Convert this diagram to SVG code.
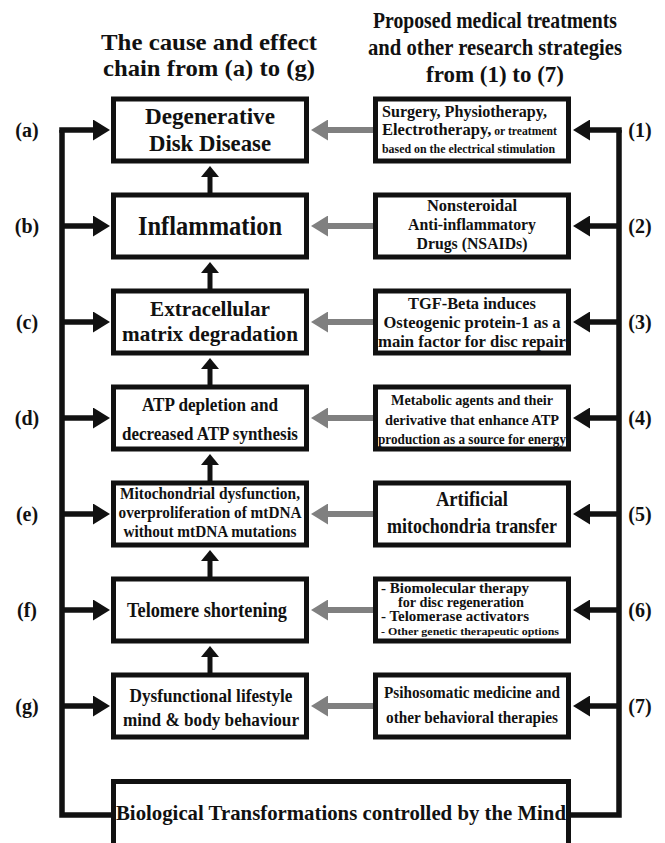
<svg xmlns="http://www.w3.org/2000/svg" width="665" height="843" viewBox="0 0 665 843">
<style>
text{font-family:"Liberation Serif","Times New Roman",serif;font-weight:bold;fill:#111}
.c{text-anchor:middle}
.box{fill:#fff;stroke:#111;stroke-width:5}
.k{stroke:#111;stroke-width:5.5;fill:none}
.g{stroke:#808080;stroke-width:6;fill:none}
.u{stroke:#111;stroke-width:5;fill:none}
.t{font-size:23px}
.lb{font-size:20px}
</style>
<defs>
<marker id="ak" markerUnits="userSpaceOnUse" markerWidth="17" markerHeight="21" viewBox="0 0 17 21" refX="1" refY="10.5" orient="auto"><path d="M0,0 L17,10.5 L0,21 Z" fill="#111"/></marker>
<marker id="ag" markerUnits="userSpaceOnUse" markerWidth="17" markerHeight="21" viewBox="0 0 17 21" refX="1" refY="10.5" orient="auto"><path d="M0,0 L17,10.5 L0,21 Z" fill="#808080"/></marker>
<marker id="au" markerUnits="userSpaceOnUse" markerWidth="11" markerHeight="18" viewBox="0 0 11 18" refX="1" refY="9" orient="auto"><path d="M0,0 L11,9 L0,18 Z" fill="#111"/></marker>
</defs>

<g id="titles">
<text class="t c" x="209" y="50" textLength="216" lengthAdjust="spacingAndGlyphs">The cause and effect</text>
<text class="t c" x="209" y="76" textLength="212" lengthAdjust="spacingAndGlyphs">chain from (a) to (g)</text>
<text class="t c" x="495" y="28" textLength="244" lengthAdjust="spacingAndGlyphs">Proposed medical treatments</text>
<text class="t c" x="495" y="55" textLength="254" lengthAdjust="spacingAndGlyphs">and other research strategies</text>
<text class="t c" x="495" y="82" textLength="138" lengthAdjust="spacingAndGlyphs">from (1) to (7)</text>
</g>

<g id="labels">
<text class="lb c" x="27" y="137">(a)</text>
<text class="lb c" x="27" y="233">(b)</text>
<text class="lb c" x="27" y="329">(c)</text>
<text class="lb c" x="27" y="425">(d)</text>
<text class="lb c" x="27" y="521">(e)</text>
<text class="lb c" x="27" y="617">(f)</text>
<text class="lb c" x="27" y="713">(g)</text>
<text class="lb c" x="640" y="137">(1)</text>
<text class="lb c" x="640" y="233">(2)</text>
<text class="lb c" x="640" y="329">(3)</text>
<text class="lb c" x="640" y="425">(4)</text>
<text class="lb c" x="640" y="521">(5)</text>
<text class="lb c" x="640" y="617">(6)</text>
<text class="lb c" x="640" y="713">(7)</text>
</g>

<g id="connectors">
<path class="k" d="M111,815 H62 V130"/>
<path class="k" d="M571,815 H619 V130"/>
<line class="k" x1="59.25" y1="130" x2="94" y2="130" marker-end="url(#ak)"/>
<line class="k" x1="62" y1="226" x2="94" y2="226" marker-end="url(#ak)"/>
<line class="k" x1="62" y1="322" x2="94" y2="322" marker-end="url(#ak)"/>
<line class="k" x1="62" y1="418" x2="94" y2="418" marker-end="url(#ak)"/>
<line class="k" x1="62" y1="514" x2="94" y2="514" marker-end="url(#ak)"/>
<line class="k" x1="62" y1="610" x2="94" y2="610" marker-end="url(#ak)"/>
<line class="k" x1="62" y1="706" x2="94" y2="706" marker-end="url(#ak)"/>
<line class="k" x1="621.75" y1="130" x2="589" y2="130" marker-end="url(#ak)"/>
<line class="k" x1="619" y1="226" x2="589" y2="226" marker-end="url(#ak)"/>
<line class="k" x1="619" y1="322" x2="589" y2="322" marker-end="url(#ak)"/>
<line class="k" x1="619" y1="418" x2="589" y2="418" marker-end="url(#ak)"/>
<line class="k" x1="619" y1="514" x2="589" y2="514" marker-end="url(#ak)"/>
<line class="k" x1="619" y1="610" x2="589" y2="610" marker-end="url(#ak)"/>
<line class="k" x1="619" y1="706" x2="589" y2="706" marker-end="url(#ak)"/>
<line class="g" x1="373" y1="130" x2="327" y2="130" marker-end="url(#ag)"/>
<line class="g" x1="373" y1="226" x2="327" y2="226" marker-end="url(#ag)"/>
<line class="g" x1="373" y1="322" x2="327" y2="322" marker-end="url(#ag)"/>
<line class="g" x1="373" y1="418" x2="327" y2="418" marker-end="url(#ag)"/>
<line class="g" x1="373" y1="514" x2="327" y2="514" marker-end="url(#ag)"/>
<line class="g" x1="373" y1="610" x2="327" y2="610" marker-end="url(#ag)"/>
<line class="g" x1="373" y1="706" x2="327" y2="706" marker-end="url(#ag)"/>
<line class="u" x1="210" y1="193" x2="210" y2="176" marker-end="url(#au)"/>
<line class="u" x1="210" y1="289" x2="210" y2="272" marker-end="url(#au)"/>
<line class="u" x1="210" y1="385" x2="210" y2="368" marker-end="url(#au)"/>
<line class="u" x1="210" y1="481" x2="210" y2="464" marker-end="url(#au)"/>
<line class="u" x1="210" y1="577" x2="210" y2="560" marker-end="url(#au)"/>
<line class="u" x1="210" y1="673" x2="210" y2="656" marker-end="url(#au)"/>
</g>

<g id="a">
<rect class="box" x="113.5" y="99" width="193" height="62"/>
<text class="c" x="210" y="124" font-size="23" textLength="130" lengthAdjust="spacingAndGlyphs">Degenerative</text>
<text class="c" x="210" y="151" font-size="23" textLength="122" lengthAdjust="spacingAndGlyphs">Disk Disease</text>
</g>
<g id="b">
<rect class="box" x="113.5" y="195" width="193" height="62"/>
<text class="c" x="210" y="235" font-size="27" textLength="144" lengthAdjust="spacingAndGlyphs">Inflammation</text>
</g>
<g id="c">
<rect class="box" x="113.5" y="291" width="193" height="62"/>
<text class="c" x="210" y="316" font-size="22" textLength="120" lengthAdjust="spacingAndGlyphs">Extracellular</text>
<text class="c" x="210" y="341" font-size="22" textLength="176" lengthAdjust="spacingAndGlyphs">matrix degradation</text>
</g>
<g id="d">
<rect class="box" x="113.5" y="387" width="193" height="62"/>
<text class="c" x="210" y="411" font-size="18" textLength="136" lengthAdjust="spacingAndGlyphs">ATP depletion and</text>
<text class="c" x="210" y="440" font-size="18" textLength="176" lengthAdjust="spacingAndGlyphs">decreased ATP synthesis</text>
</g>
<g id="e">
<rect class="box" x="113.5" y="483" width="193" height="62"/>
<text class="c" x="210" y="499" font-size="16" textLength="180" lengthAdjust="spacingAndGlyphs">Mitochondrial dysfunction,</text>
<text class="c" x="210" y="518" font-size="16" textLength="183" lengthAdjust="spacingAndGlyphs">overproliferation of mtDNA</text>
<text class="c" x="210" y="537" font-size="16" textLength="173" lengthAdjust="spacingAndGlyphs">without mtDNA mutations</text>
</g>
<g id="f">
<rect class="box" x="113.5" y="579" width="193" height="62"/>
<text class="c" x="207" y="617" font-size="21" textLength="160" lengthAdjust="spacingAndGlyphs">Telomere shortening</text>
</g>
<g id="g">
<rect class="box" x="113.5" y="675" width="193" height="62"/>
<text class="c" x="211" y="702" font-size="18" textLength="163" lengthAdjust="spacingAndGlyphs">Dysfunctional lifestyle</text>
<text class="c" x="211" y="726" font-size="18" textLength="176" lengthAdjust="spacingAndGlyphs">mind &amp; body behaviour</text>
</g>

<g id="t1">
<rect class="box" x="375.5" y="99" width="193" height="62"/>
<text x="382" y="117" font-size="17" textLength="165" lengthAdjust="spacingAndGlyphs">Surgery, Physiotherapy,</text>
<text x="382" y="135" font-size="17" textLength="175" lengthAdjust="spacingAndGlyphs">Electrotherapy,<tspan font-size="12"> or treatment</tspan></text>
<text x="382" y="153" font-size="12" textLength="173" lengthAdjust="spacingAndGlyphs">based on the electrical stimulation</text>
</g>
<g id="t2">
<rect class="box" x="375.5" y="195" width="193" height="62"/>
<text class="c" x="472" y="211" font-size="17" textLength="90" lengthAdjust="spacingAndGlyphs">Nonsteroidal</text>
<text class="c" x="472" y="230" font-size="17" textLength="128" lengthAdjust="spacingAndGlyphs">Anti-inflammatory</text>
<text class="c" x="472" y="249" font-size="17" textLength="111" lengthAdjust="spacingAndGlyphs">Drugs (NSAIDs)</text>
</g>
<g id="t3">
<rect class="box" x="375.5" y="291" width="193" height="62"/>
<text class="c" x="472" y="309" font-size="17" textLength="128" lengthAdjust="spacingAndGlyphs">TGF-Beta induces</text>
<text class="c" x="472" y="328" font-size="17" textLength="177" lengthAdjust="spacingAndGlyphs">Osteogenic protein-1 as a</text>
<text class="c" x="472" y="347" font-size="17" textLength="188" lengthAdjust="spacingAndGlyphs">main factor for disc repair</text>
</g>
<g id="t4">
<rect class="box" x="375.5" y="387" width="193" height="62"/>
<text class="c" x="472" y="405" font-size="15" textLength="162" lengthAdjust="spacingAndGlyphs">Metabolic agents and their</text>
<text class="c" x="472" y="425" font-size="15" textLength="174" lengthAdjust="spacingAndGlyphs">derivative that enhance ATP</text>
<text class="c" x="472" y="444" font-size="15" textLength="188" lengthAdjust="spacingAndGlyphs">production as a source for energy</text>
</g>
<g id="t5">
<rect class="box" x="375.5" y="483" width="193" height="62"/>
<text class="c" x="472" y="506" font-size="21" textLength="72" lengthAdjust="spacingAndGlyphs">Artificial</text>
<text class="c" x="472" y="533" font-size="21" textLength="170" lengthAdjust="spacingAndGlyphs">mitochondria transfer</text>
</g>
<g id="t6">
<rect class="box" x="375.5" y="579" width="193" height="62"/>
<text x="381" y="593" font-size="14" textLength="148" lengthAdjust="spacingAndGlyphs">- Biomolecular therapy</text>
<text x="398" y="607" font-size="14" textLength="126" lengthAdjust="spacingAndGlyphs">for disc regeneration</text>
<text x="381" y="621" font-size="14" textLength="148" lengthAdjust="spacingAndGlyphs">- Telomerase activators</text>
<text x="381" y="635" font-size="11" textLength="178" lengthAdjust="spacingAndGlyphs">- Other genetic therapeutic options</text>
</g>
<g id="t7">
<rect class="box" x="375.5" y="675" width="193" height="62"/>
<text class="c" x="472" y="698" font-size="17" textLength="176" lengthAdjust="spacingAndGlyphs">Psihosomatic medicine and</text>
<text class="c" x="472" y="723" font-size="17" textLength="172" lengthAdjust="spacingAndGlyphs">other behavioral therapies</text>
</g>

<g id="mind">
<rect class="box" x="113.5" y="781.5" width="455" height="80"/>
<text class="c" x="341" y="820" font-size="21" textLength="450" lengthAdjust="spacingAndGlyphs">Biological Transformations controlled by the Mind</text>
</g>
</svg>
